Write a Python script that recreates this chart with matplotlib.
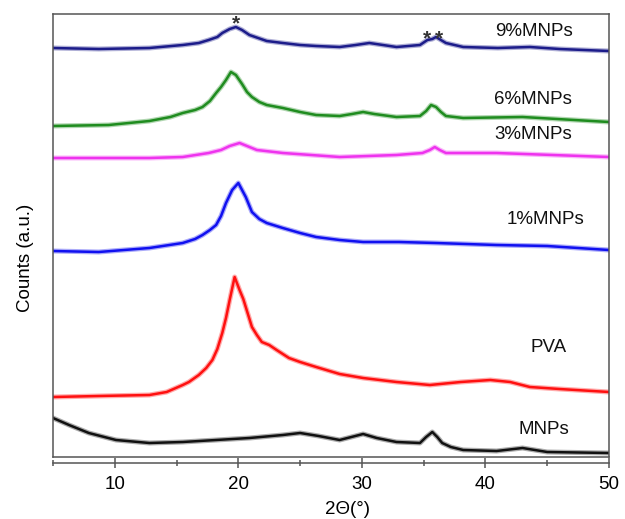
import matplotlib
matplotlib.use("Agg")
import matplotlib.pyplot as plt

plt.rcParams['font.family'] = ['Liberation Sans', 'DejaVu Sans']

# 2-theta (deg) and intensity (arbitrary, offset-stacked)
x_9 = [5.0, 8.7, 12.8, 15.5, 16.8, 17.6, 18.3, 18.7, 19.3, 19.8, 20.3, 20.9, 21.6, 22.3, 23.6, 25.0, 26.3, 28.2, 29.5, 30.6, 31.7, 32.8, 34.7, 35.3, 35.7, 36.0, 36.4, 36.8, 38.2, 41.0, 43.6, 46.0, 50.0]
y_9 = [409, 408, 409, 412, 414, 417, 420, 424, 428, 430, 427, 422, 419, 416, 414, 412, 411, 410, 412, 414, 412, 410, 412, 417, 418, 420, 417, 414, 410, 409, 410, 408, 406]

x_6 = [5.0, 9.5, 12.8, 14.5, 15.5, 16.5, 17.1, 17.7, 18.2, 18.6, 19.0, 19.4, 19.8, 20.3, 20.7, 21.1, 21.7, 22.3, 23.6, 25.0, 26.3, 28.2, 29.2, 30.1, 31.0, 32.8, 34.7, 35.2, 35.6, 36.0, 36.4, 36.8, 38.2, 43.0, 50.0]
y_6 = [331, 332, 336, 340, 344, 347, 350, 356, 364, 370, 377, 385, 382, 373, 365, 360, 355, 352, 349, 345, 342, 341, 343, 345, 343, 340, 341, 346, 352, 350, 345, 341, 339, 340, 335]

x_3 = [5.0, 12.8, 15.5, 17.6, 18.6, 19.3, 20.1, 20.9, 21.5, 23.6, 28.2, 32.8, 34.9, 35.5, 35.9, 36.3, 36.8, 40.9, 50.0]
y_3 = [299, 299, 300, 304, 307, 311, 314, 310, 307, 304, 300, 302, 304, 307, 310, 307, 304, 304, 300]

x_1 = [5.0, 8.7, 12.8, 15.5, 16.5, 17.1, 17.7, 18.2, 18.6, 19.0, 19.5, 20.0, 20.6, 21.1, 21.7, 22.3, 23.6, 25.0, 26.3, 28.2, 30.1, 33.0, 36.0, 40.9, 45.0, 50.0]
y_1 = [206, 205, 209, 214, 218, 222, 227, 232, 241, 254, 267, 274, 260, 245, 238, 234, 229, 224, 220, 217, 215, 215, 214, 212, 211, 207]

x_pva = [5.0, 8.7, 12.8, 14.2, 15.5, 16.0, 16.8, 17.4, 17.9, 18.3, 18.7, 19.0, 19.3, 19.7, 20.1, 20.4, 20.8, 21.1, 21.5, 21.9, 22.5, 23.1, 24.1, 25.0, 26.3, 28.2, 30.1, 32.8, 35.5, 38.0, 40.4, 42.0, 43.6, 46.0, 50.0]
y_pva = [60, 61, 62, 65, 72, 75, 82, 89, 97, 108, 124, 139, 157, 180, 167, 158, 142, 130, 122, 115, 112, 107, 99, 95, 90, 83, 79, 75, 72, 75, 77, 75, 70, 68, 65]

x_mnp = [5.0, 6.3, 7.9, 10.1, 12.8, 15.5, 18.2, 20.9, 23.6, 25.0, 26.5, 28.2, 30.1, 31.2, 32.8, 34.7, 35.2, 35.7, 36.1, 36.5, 37.2, 38.2, 40.9, 43.0, 45.0, 50.0]
y_mnp = [39, 32, 24, 17, 14, 15, 17, 19, 22, 24, 21, 17, 23, 19, 15, 14, 20, 25, 20, 14, 10, 7, 6, 9, 5, 4]

series = [
    (x_9, y_9, '#1c1c8a'),
    (x_6, y_6, '#1f8c1f'),
    (x_3, y_3, '#ee33ee'),
    (x_1, y_1, '#1010f0'),
    (x_pva, y_pva, '#ff1010'),
    (x_mnp, y_mnp, '#111111'),
]

labels = ['9%MNPs', '6%MNPs', '3%MNPs', '1%MNPs', 'PVA', 'MNPs']
label_x = [43.9, 43.85, 43.85, 44.9, 45.1, 44.7]
label_y = [426, 358, 323, 237, 109, 27]

star_x = [19.8, 35.3, 36.2]
star_y = [433, 418, 418]

fig = plt.figure(figsize=(6.25, 5.19), dpi=100)
ax = fig.add_axes([53/625, 62/519, 556/625, 443/519])

for xs, ys, c in series:
    ax.plot(xs, ys, color=c, lw=3.6, alpha=0.35, solid_joinstyle='round')
    ax.plot(xs, ys, color=c, lw=1.8, solid_joinstyle='round')

for t, lx, ly in zip(labels, label_x, label_y):
    ax.text(lx, ly, t, ha='center', va='center', fontsize=13.5, color='#111111')

for sx, sy in zip(star_x, star_y):
    ax.text(sx, sy, '*', ha='center', va='center', fontsize=15, fontweight='bold', color='#333333')

ax.set_xlim(5, 50)
ax.set_ylim(0, 443)
ax.set_yticks([])
ax.tick_params(axis='x', bottom=False, labelbottom=False)
for s in ax.spines.values():
    s.set_color('#555555')
    s.set_linewidth(1.1)

sec = ax.secondary_xaxis(-6/443)
sec.set_xticks([10, 20, 30, 40, 50])
sec.set_xticks([5, 15, 25, 35, 45], minor=True)
sec.tick_params(axis='x', which='major', direction='inout', length=7, width=1.1,
                color='#555555', labelsize=13.5, pad=6)
sec.tick_params(axis='x', which='minor', direction='inout', length=4, width=1.1, color='#555555')
sec.spines['bottom'].set_color('#555555')
sec.spines['bottom'].set_linewidth(1.1)

fig.text(347/625, 1 - 510/519, '2Θ(°)', ha='center', va='center', fontsize=13.5)
fig.text(25/625, 1 - 258/519, 'Counts (a.u.)', ha='center', va='center', rotation=90, fontsize=13.5)

fig.savefig('out.png', dpi=100)
